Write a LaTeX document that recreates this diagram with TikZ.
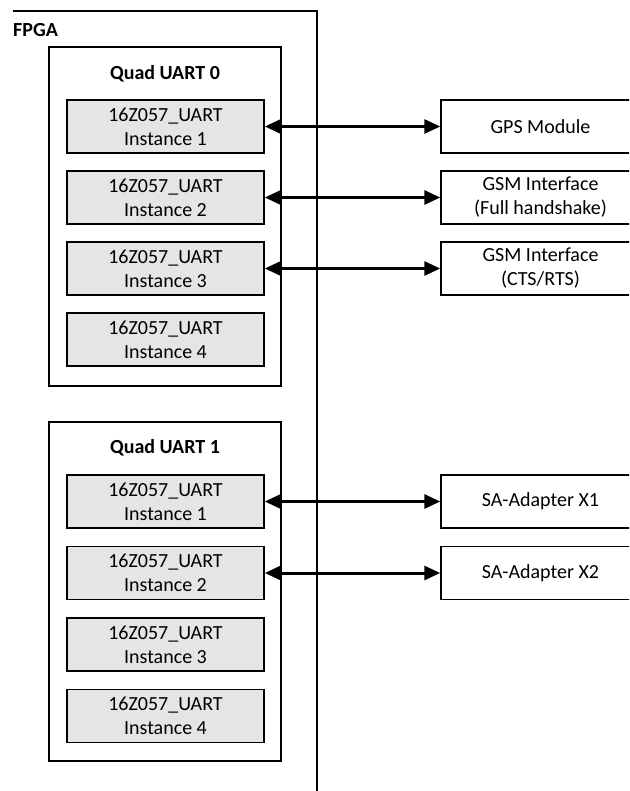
\documentclass[tikz,border=0pt]{standalone}
\usepackage{fontspec}
\setmainfont{Carlito}
\usetikzlibrary{arrows.meta}

\begin{document}
\begin{tikzpicture}[x=1pt,y=-1pt,
  font=\fontsize{20}{24}\selectfont,
  quadbox/.style={rectangle,draw,line width=1.5pt,minimum width=232pt,minimum height=339pt},
  uart/.style={rectangle,draw,line width=1.5pt,fill=gray!20,align=center,minimum width=197pt,minimum height=53pt,inner sep=0pt},
  extbox/.style={rectangle,draw,line width=1.5pt,align=center,minimum width=199pt,minimum height=53pt,inner sep=0pt},
  link/.style={{Triangle[length=16pt,width=14pt]}-{Triangle[length=16pt,width=14pt]},line width=3pt}]
\useasboundingbox (0,0) rectangle (629,791);
\clip (0,0) rectangle (629,791);

\draw [line width=1.5pt] (13,11) -- (317,11) -- (317,800);
\node[anchor=west,inner sep=0pt,font=\fontsize{20}{24}\selectfont\bfseries] (fpga) at (13,30){FPGA};

\node[quadbox] (q0) at (165,216.5){};
\node[font=\fontsize{20}{24}\selectfont\bfseries] (t0) at (165,74){Quad UART 0};
\node[uart] (u01) at (165.5,126.5){16Z057\_UART\\Instance 1};
\node[uart] (u02) at (165.5,197.5){16Z057\_UART\\Instance 2};
\node[uart] (u03) at (165.5,268.5){16Z057\_UART\\Instance 3};
\node[uart] (u04) at (165.5,339.5){16Z057\_UART\\Instance 4};

\node[quadbox] (q1) at (165,591.5){};
\node[font=\fontsize{20}{24}\selectfont\bfseries] (t1) at (165,448){Quad UART 1};
\node[uart] (u11) at (165.5,501.5){16Z057\_UART\\Instance 1};
\node[uart] (u12) at (165.5,573){16Z057\_UART\\Instance 2};
\node[uart] (u13) at (165.5,644.5){16Z057\_UART\\Instance 3};
\node[uart] (u14) at (165.5,716){16Z057\_UART\\Instance 4};

\node[extbox] (gps) at (540.5,126.5){GPS Module};
\node[extbox] (gsm1) at (540.5,197.5){GSM Interface\\(Full handshake)};
\node[extbox] (gsm2) at (540.5,268.5){GSM Interface\\(CTS/RTS)};
\node[extbox] (sa1) at (540.5,501.5){SA-Adapter X1};
\node[extbox] (sa2) at (540.5,573){SA-Adapter X2};

\draw [link] (u01) -- (gps);
\draw [link] (u02) -- (gsm1);
\draw [link] (u03) -- (gsm2);
\draw [link] (u11) -- (sa1);
\draw [link] (u12) -- (sa2);

\end{tikzpicture}
\end{document}
